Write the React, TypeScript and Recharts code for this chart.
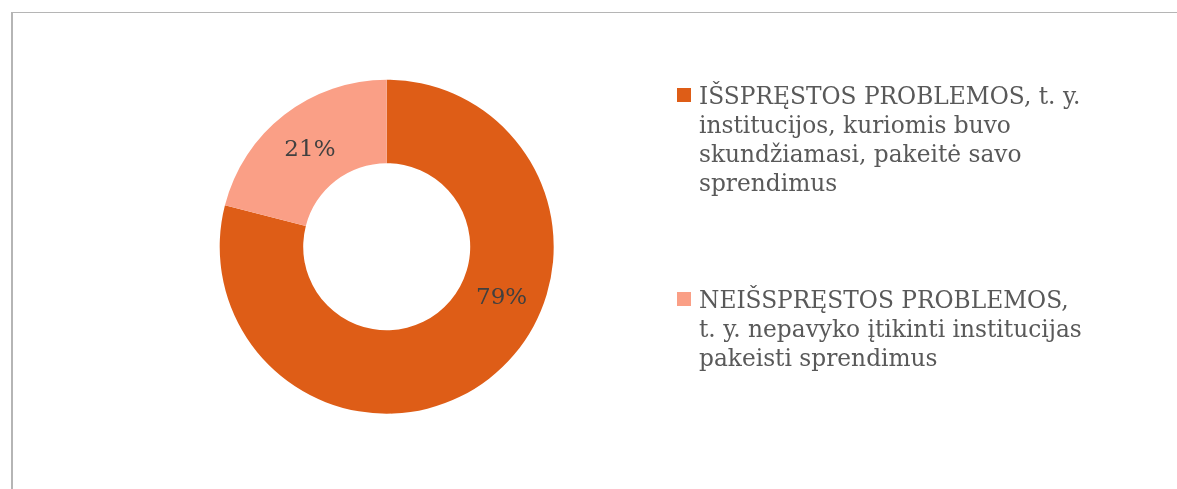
import { Cell, Legend, Pie, PieChart } from "recharts";

const categories = [
  "IŠSPRĘSTOS PROBLEMOS, t. y.\ninstitucijos, kuriomis buvo\nskundžiamasi, pakeitė savo\nsprendimus",
  "NEIŠSPRĘSTOS PROBLEMOS,\nt. y. nepavyko įtikinti institucijas\npakeisti sprendimus",
];
const shares = [79, 21];
const colors = ["#DE5D17", "#FA9F86"];

const data = categories.map((name, i) => ({ name, value: shares[i] }));

const RAD = Math.PI / 180;
const FONT = "DejaVu Serif, serif";

// Excel nudges the big slice's label toward the right side of the ring
const labelShift = [28.8, 0];

const renderLabel = (props: any) => {
  const { cx, cy, midAngle, innerRadius, outerRadius, index, value } = props;
  const r = (innerRadius + outerRadius) / 2;
  const a = (midAngle + labelShift[index]) * RAD;
  const x = cx + r * Math.cos(a);
  const y = cy - r * Math.sin(a);
  return (
    <text
      x={x}
      y={y}
      textAnchor="middle"
      dominantBaseline="central"
      fill="#404040"
      fontSize={23}
      fontFamily={FONT}
    >
      {value}%
    </text>
  );
};

const renderLegend = (props: any) => {
  const { payload } = props;
  return (
    <div style={{ fontFamily: FONT, fontSize: 23.3, lineHeight: "29px", color: "#595959" }}>
      {payload.map((entry: any, i: number) => (
        <div key={i} style={{ display: "flex", alignItems: "flex-start", marginBottom: i === 0 ? 88 : 0 }}>
          <span
            style={{
              display: "inline-block",
              width: 14,
              height: 14,
              background: entry.color,
              marginTop: 7,
              marginRight: 8,
              flex: "none",
            }}
          />
          <span style={{ whiteSpace: "pre" }}>{entry.value}</span>
        </div>
      ))}
    </div>
  );
};

export default function App() {
  return (
    <div style={{ position: "relative", width: 1161, height: 470 }}>
      {/* chart frame: only top and left edges fall inside the snapshot */}
      <div
        style={{
          position: "fixed",
          left: 11,
          top: 12,
          right: 0,
          bottom: 0,
          borderTop: "1px solid #b5b5b5",
          borderLeft: "2px solid #b5b5b5",
          pointerEvents: "none",
        }}
      />
      <PieChart
        width={1161}
        height={470}
        margin={{ top: 0, right: 0, bottom: 0, left: 0 }}
        style={{ position: "absolute", left: 0, top: 0 }}
      >
        <Pie
          data={data}
          dataKey="value"
          nameKey="name"
          cx={378.7}
          cy={238.7}
          innerRadius={83.5}
          outerRadius={167}
          startAngle={90}
          endAngle={-270}
          stroke="none"
          label={renderLabel}
          labelLine={false}
          isAnimationActive={false}
        >
          {data.map((_, i) => (
            <Cell key={i} fill={colors[i]} />
          ))}
        </Pie>
        <Legend
          content={renderLegend}
          wrapperStyle={{ position: "absolute", left: 669, top: 73, width: 460 }}
        />
      </PieChart>
    </div>
  );
}
